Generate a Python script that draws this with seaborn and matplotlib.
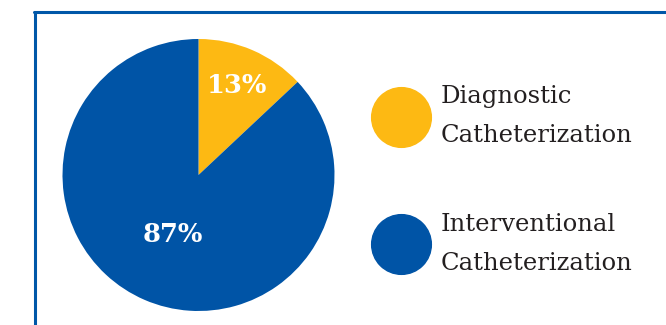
import matplotlib
matplotlib.use("Agg")
import matplotlib.pyplot as plt
import seaborn as sns
import numpy as np
from matplotlib.lines import Line2D

categories = ["Diagnostic\nCatheterization", "Interventional\nCatheterization"]
values = [13, 87]
pct_labels = ["13%", "87%"]
colors = ["#FDB913", "#0054A6"]

sns.set_theme(style="white")
plt.rcParams['font.family'] = ['DejaVu Serif', 'DejaVu Sans']

W, H = 666, 325
fig = plt.figure(figsize=(W / 100, H / 100), dpi=100)

# frame lines (top and left)
frame_color = "#0057A8"
fig.add_artist(Line2D([34 / W, 1], [1 - 12 / H, 1 - 12 / H], color=frame_color, lw=2.2))
fig.add_artist(Line2D([35 / W, 35 / W], [0, 1 - 12 / H], color=frame_color, lw=2.2))

# pie axes
cx, cy, r = 198.5, 175, 136
ax = fig.add_axes([(cx - r) / W, (H - cy - r) / H, 2 * r / W, 2 * r / H])
wedges, _ = ax.pie(values, colors=colors, startangle=90, counterclock=False,
                   wedgeprops=dict(linewidth=0))
ax.set_xlim(-1, 1)
ax.set_ylim(-1, 1)
ax.set_aspect("equal")
ax.axis("off")

label_dist = [0.72, 0.48]
for w, lab, d in zip(wedges, pct_labels, label_dist):
    th = np.deg2rad((w.theta1 + w.theta2) / 2)
    ax.text(d * np.cos(th), d * np.sin(th), lab, ha="center", va="center",
            color="white", fontsize=18.5, fontweight="bold")

handles = [Line2D([], [], marker="o", ls="", markersize=43, color=c) for c in colors]
leg = fig.legend(handles, categories, loc="upper left",
                 bbox_to_anchor=(372 / W, 1 - 75.5 / H), frameon=False,
                 fontsize=17.5, labelspacing=2.71, handletextpad=0.84,
                 handlelength=1.6, borderaxespad=0)
for t in leg.get_texts():
    t.set_linespacing(1.88)
    t.set_color("#231F20")

fig.savefig("out.png", dpi=100)
